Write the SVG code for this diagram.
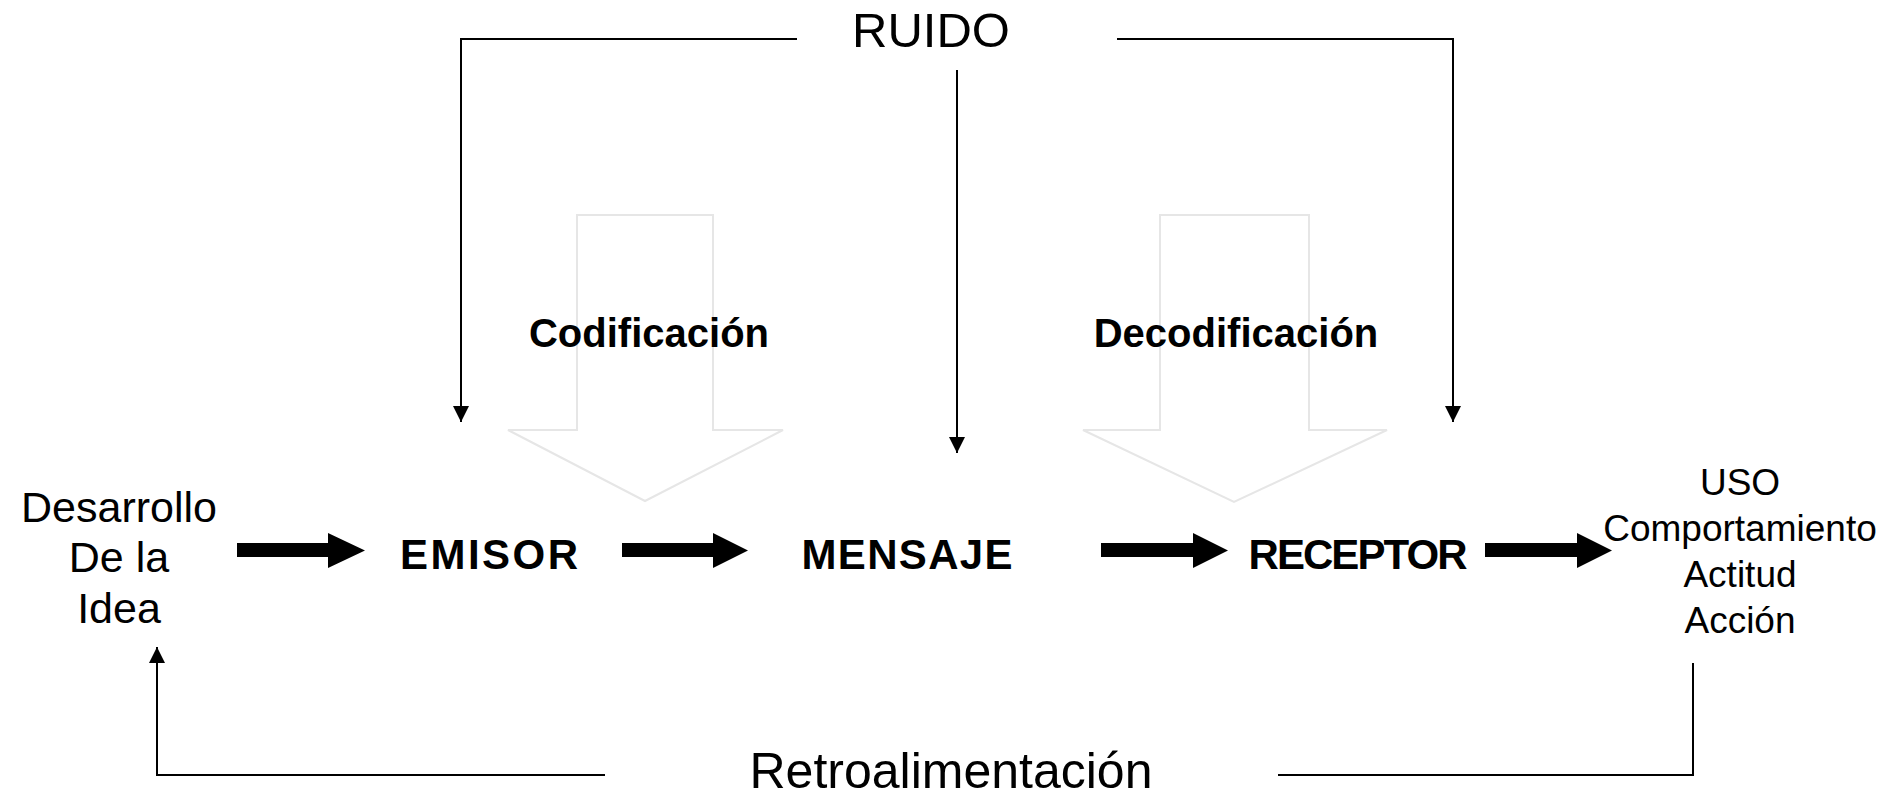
<svg xmlns="http://www.w3.org/2000/svg" width="1896" height="797" viewBox="0 0 1896 797">
<style>
text{font-family:"Liberation Sans",Arial,sans-serif;fill:#000;text-anchor:middle}
.b{font-weight:bold}
.hollow{fill:none;stroke:#e6e6e6;stroke-width:2;stroke-linejoin:miter}
.thin{fill:none;stroke:#000;stroke-width:2}
.thick{fill:#000}
</style>
<defs>
<marker id="ah" markerUnits="userSpaceOnUse" markerWidth="16" markerHeight="18" refX="16" refY="8" orient="auto" viewBox="0 0 16 16">
<path d="M0,0 L16,8 L0,16 Z" fill="#000"/>
</marker>
</defs>
<rect width="1896" height="797" fill="#fff"/>
<g id="hollow-arrows">
<polygon id="codif-arrow" class="hollow" points="577,215 713,215 713,430 783,430 645,501 508,430 577,430"/>
<polygon id="decodif-arrow" class="hollow" points="1160,215 1309,215 1309,430 1387,430 1234,502 1083,430 1160,430"/>
</g>
<g id="connectors">
<path class="thin" d="M797,39 H461 V422" marker-end="url(#ah)"/>
<path class="thin" d="M957,70 V453" stroke-width="1.5" marker-end="url(#ah)"/>
<path class="thin" d="M1117,39 H1453 V422" marker-end="url(#ah)"/>
<path class="thin" d="M605,775 H157 V647" marker-end="url(#ah)"/>
<path class="thin" d="M1278,775 H1693 V663"/>
<polygon class="thick" points="237,543 328,543 328,533 365,550.5 328,568 328,557 237,557"/>
<polygon class="thick" points="622,543 713,543 713,533 748,550.5 713,568 713,557 622,557"/>
<polygon class="thick" points="1101,543 1193,543 1193,533 1228,550.5 1193,568 1193,557 1101,557"/>
<polygon class="thick" points="1485,543 1577,543 1577,533 1612,550.5 1577,568 1577,557 1485,557"/>
</g>
<g id="ruido"><text x="931" y="47" font-size="49">RUIDO</text></g>
<g id="codificacion"><text class="b" x="649" y="347" font-size="40">Codificación</text></g>
<g id="decodificacion"><text class="b" x="1236" y="347" font-size="40">Decodificación</text></g>
<g id="idea">
<text x="119" y="522" font-size="43">Desarrollo</text>
<text x="119" y="572" font-size="43">De la</text>
<text x="119" y="623" font-size="43">Idea</text>
</g>
<g id="emisor"><text class="b" x="489" y="569" font-size="42" textLength="178">EMISOR</text></g>
<g id="mensaje"><text class="b" x="907" y="569" font-size="42" textLength="211">MENSAJE</text></g>
<g id="receptor"><text class="b" x="1358" y="569" font-size="42" textLength="219">RECEPTOR</text></g>
<g id="uso">
<text x="1740" y="495" font-size="37">USO</text>
<text x="1740" y="541" font-size="37">Comportamiento</text>
<text x="1740" y="587" font-size="37">Actitud</text>
<text x="1740" y="633" font-size="37">Acción</text>
</g>
<g id="retro"><text x="951" y="788" font-size="50">Retroalimentación</text></g>
</svg>
